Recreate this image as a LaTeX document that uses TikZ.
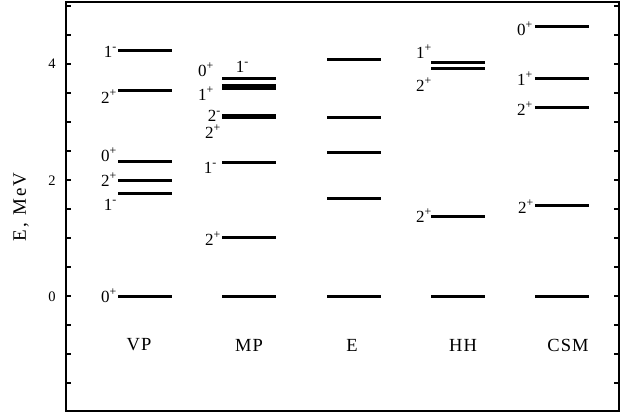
\documentclass[tikz,border=0pt]{standalone}
\usepackage{fontspec}
\setmainfont{Liberation Serif}
\begin{document}
\begin{tikzpicture}[x=1pt,y=-1pt,
  lvl/.style={line width=3pt},
  lbl/.style={anchor=base east,inner sep=0pt,font=\fontsize{17}{17}\selectfont},
  col/.style={anchor=center,inner sep=0pt,font=\fontsize{18.5}{18.5}\selectfont\addfontfeature{LetterSpace=6}},
  axnum/.style={anchor=center,inner sep=0pt,font=\fontsize{14.5}{14.5}\selectfont}]
\useasboundingbox (0,0) rectangle (621,413);
% frame
\draw[line width=1.6pt] (66,2) rectangle (619,411);
\foreach \yy in {6,35,64,93,122,151,180,209,238,267,296,325,354,383}{
  \draw[line width=1.4pt] (66,\yy) -- (71,\yy);
  \draw[line width=1.4pt] (619,\yy) -- (614,\yy);
}
\node[axnum] (a4) at (52,64) {4};
\node[axnum] (a2) at (52,181) {2};
\node[axnum] (a0) at (52,297) {0};
\node[rotate=90,anchor=center,inner sep=0pt,font=\fontsize{19}{19}\selectfont\addfontfeature{LetterSpace=12}] (ylab) at (21,207) {E, MeV};
% VP
\foreach \yy in {50,90,161,180,193,296}{\draw[lvl] (118,\yy) -- (172,\yy);}
\node[lbl] (vp1) at (117,57) {1\textsuperscript{-}};
\node[lbl] (vp2) at (117,103) {2\textsuperscript{+}};
\node[lbl] (vp3) at (117,161) {0\textsuperscript{+}};
\node[lbl] (vp4) at (117,186) {2\textsuperscript{+}};
\node[lbl] (vp5) at (117,210) {1\textsuperscript{-}};
\node[lbl] (vp6) at (117,302) {0\textsuperscript{+}};
\node[col] (cvp) at (139,345) {VP};
% MP
\foreach \yy in {78,85.2,88.6,115.2,117.4,162,237,296}{\draw[lvl] (222,\yy) -- (276,\yy);}
\node[lbl] (mp1) at (214,76) {0\textsuperscript{+}};
\node[lbl] (mp2) at (249,72) {1\textsuperscript{-}};
\node[lbl] (mp3) at (214,100) {1\textsuperscript{+}};
\node[lbl] (mp4) at (221,121) {2\textsuperscript{-}};
\node[lbl] (mp5) at (221,138) {2\textsuperscript{+}};
\node[lbl] (mp6) at (217,173) {1\textsuperscript{-}};
\node[lbl] (mp7) at (221,245) {2\textsuperscript{+}};
\node[col] (cmp) at (249,345) {MP};
% E
\foreach \yy in {59,117,152,198,296}{\draw[lvl] (327,\yy) -- (381,\yy);}
\node[col] (ce) at (352,345) {E};
% HH
\foreach \yy in {62.5,68.3,216,296}{\draw[lvl] (431,\yy) -- (485,\yy);}
\node[lbl] (hh1) at (432,58) {1\textsuperscript{+}};
\node[lbl] (hh2) at (432,91) {2\textsuperscript{+}};
\node[lbl] (hh3) at (432,222) {2\textsuperscript{+}};
\node[col] (chh) at (463,345) {HH};
% CSM
\foreach \yy in {26,78,107,205,296}{\draw[lvl] (535,\yy) -- (589,\yy);}
\node[lbl] (cs1) at (533,35) {0\textsuperscript{+}};
\node[lbl] (cs2) at (533,85) {1\textsuperscript{+}};
\node[lbl] (cs3) at (533,115) {2\textsuperscript{+}};
\node[lbl] (cs4) at (534,213) {2\textsuperscript{+}};
\node[col] (ccsm) at (568,345) {CSM};
\end{tikzpicture}
\end{document}
